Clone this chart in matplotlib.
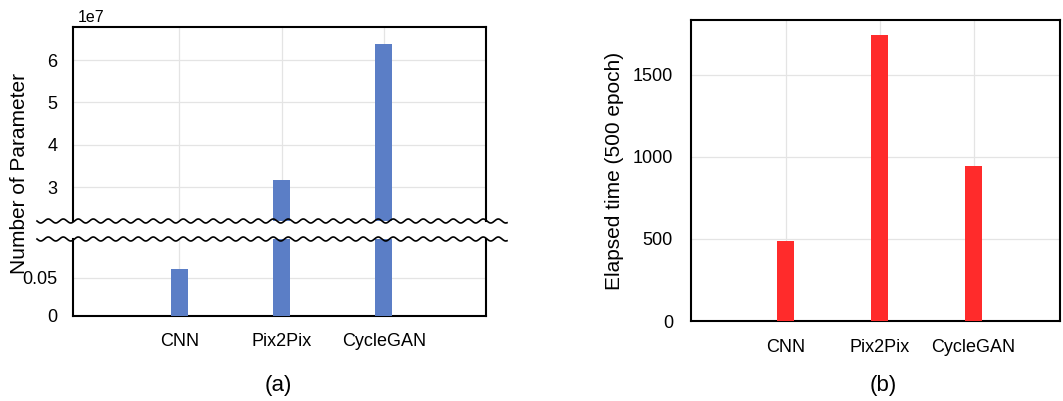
import numpy as np
import matplotlib.pyplot as plt
from matplotlib.lines import Line2D
from matplotlib.ticker import FuncFormatter

plt.rcParams['font.family'] = ['Liberation Sans', 'DejaVu Sans']

## Data
models = ["CNN", "Pix2Pix", "CycleGAN"]
n_params = [620000, 31700000, 63800000]
elapsed = [490, 1745, 945]

upper_ticks = [3e7, 4e7, 5e7, 6e7]
lower_ticks = [0, 5e5]
time_ticks = [0, 500, 1000, 1500]

blue = "#5b7ec6"
red = "#ff2b2b"
grid_c = "#e4e4e4"

W, H = 1063, 401
fig = plt.figure(figsize=(W / 100, H / 100), dpi=100)

def px(x0, y_top, x1, y_bot):
    return [x0 / W, 1 - y_bot / H, (x1 - x0) / W, (y_bot - y_top) / H]

ax_up = fig.add_axes(px(73, 27, 486, 221))
ax_lo = fig.add_axes(px(73, 239, 486, 316))
ax_t = fig.add_axes(px(691, 20, 1060, 321))

x = np.arange(len(models))

for ax in (ax_up, ax_lo):
    ax.bar(x, n_params, width=0.17, color=blue, zorder=3)
    ax.set_xlim(-1.04, 3.0)
    ax.set_xticks(x)
    ax.grid(True, color=grid_c, lw=0.9, zorder=0)
    for s in ax.spines.values():
        s.set_linewidth(1.5)
        s.set_color("black")
    ax.tick_params(length=0, labelsize=13, pad=11)

ax_up.set_ylim(2.2e7, 6.78e7)
ax_up.set_yticks(upper_ticks)
ax_up.yaxis.set_major_formatter(FuncFormatter(lambda v, p: "%g" % (v / 1e7)))
ax_up.spines["bottom"].set_visible(False)
ax_up.tick_params(axis="x", labelbottom=False)

ax_lo.set_ylim(0, 1.01e6)
ax_lo.set_yticks(lower_ticks)
ax_lo.yaxis.set_major_formatter(FuncFormatter(lambda v, p: "%g" % (v / 1e7)))
ax_lo.spines["top"].set_visible(False)
ax_lo.set_xticklabels(models)
ax_lo.tick_params(axis="x", pad=12)

fig.text(78 / W, 1 - 22 / H, "1e7", fontsize=11.5, ha="left", va="baseline")
fig.text(20 / W, 1 - 173 / H, "Number of Parameter", fontsize=15,
         rotation=90, ha="center", va="center")

# wavy break marks
xs = np.linspace(37, 507, 600)
for y0 in (221, 239):
    ys = y0 + 2.0 * np.sin(2 * np.pi * (xs - 37) / 15.0)
    fig.add_artist(Line2D(xs / W, 1 - ys / H, color="black", lw=1.2))

# right panel
ax_t.bar(x, elapsed, width=0.18, color=red, zorder=3)
ax_t.set_xlim(-1.01, 2.92)
ax_t.set_ylim(0, 1835)
ax_t.set_xticks(x)
ax_t.set_xticklabels(models)
ax_t.set_yticks(time_ticks)
ax_t.grid(True, color=grid_c, lw=0.9, zorder=0)
for s in ax_t.spines.values():
    s.set_linewidth(1.5)
    s.set_color("black")
ax_t.tick_params(length=0, labelsize=13, pad=13)
ax_t.tick_params(axis="x", pad=13)
ax_t.set_ylabel("Elapsed time (500 epoch)", fontsize=15, labelpad=6)

fig.text(278 / W, 1 - 385 / H, "(a)", fontsize=16, ha="center", va="center")
fig.text(883 / W, 1 - 385 / H, "(b)", fontsize=16, ha="center", va="center")

fig.savefig("out.png", dpi=100)
